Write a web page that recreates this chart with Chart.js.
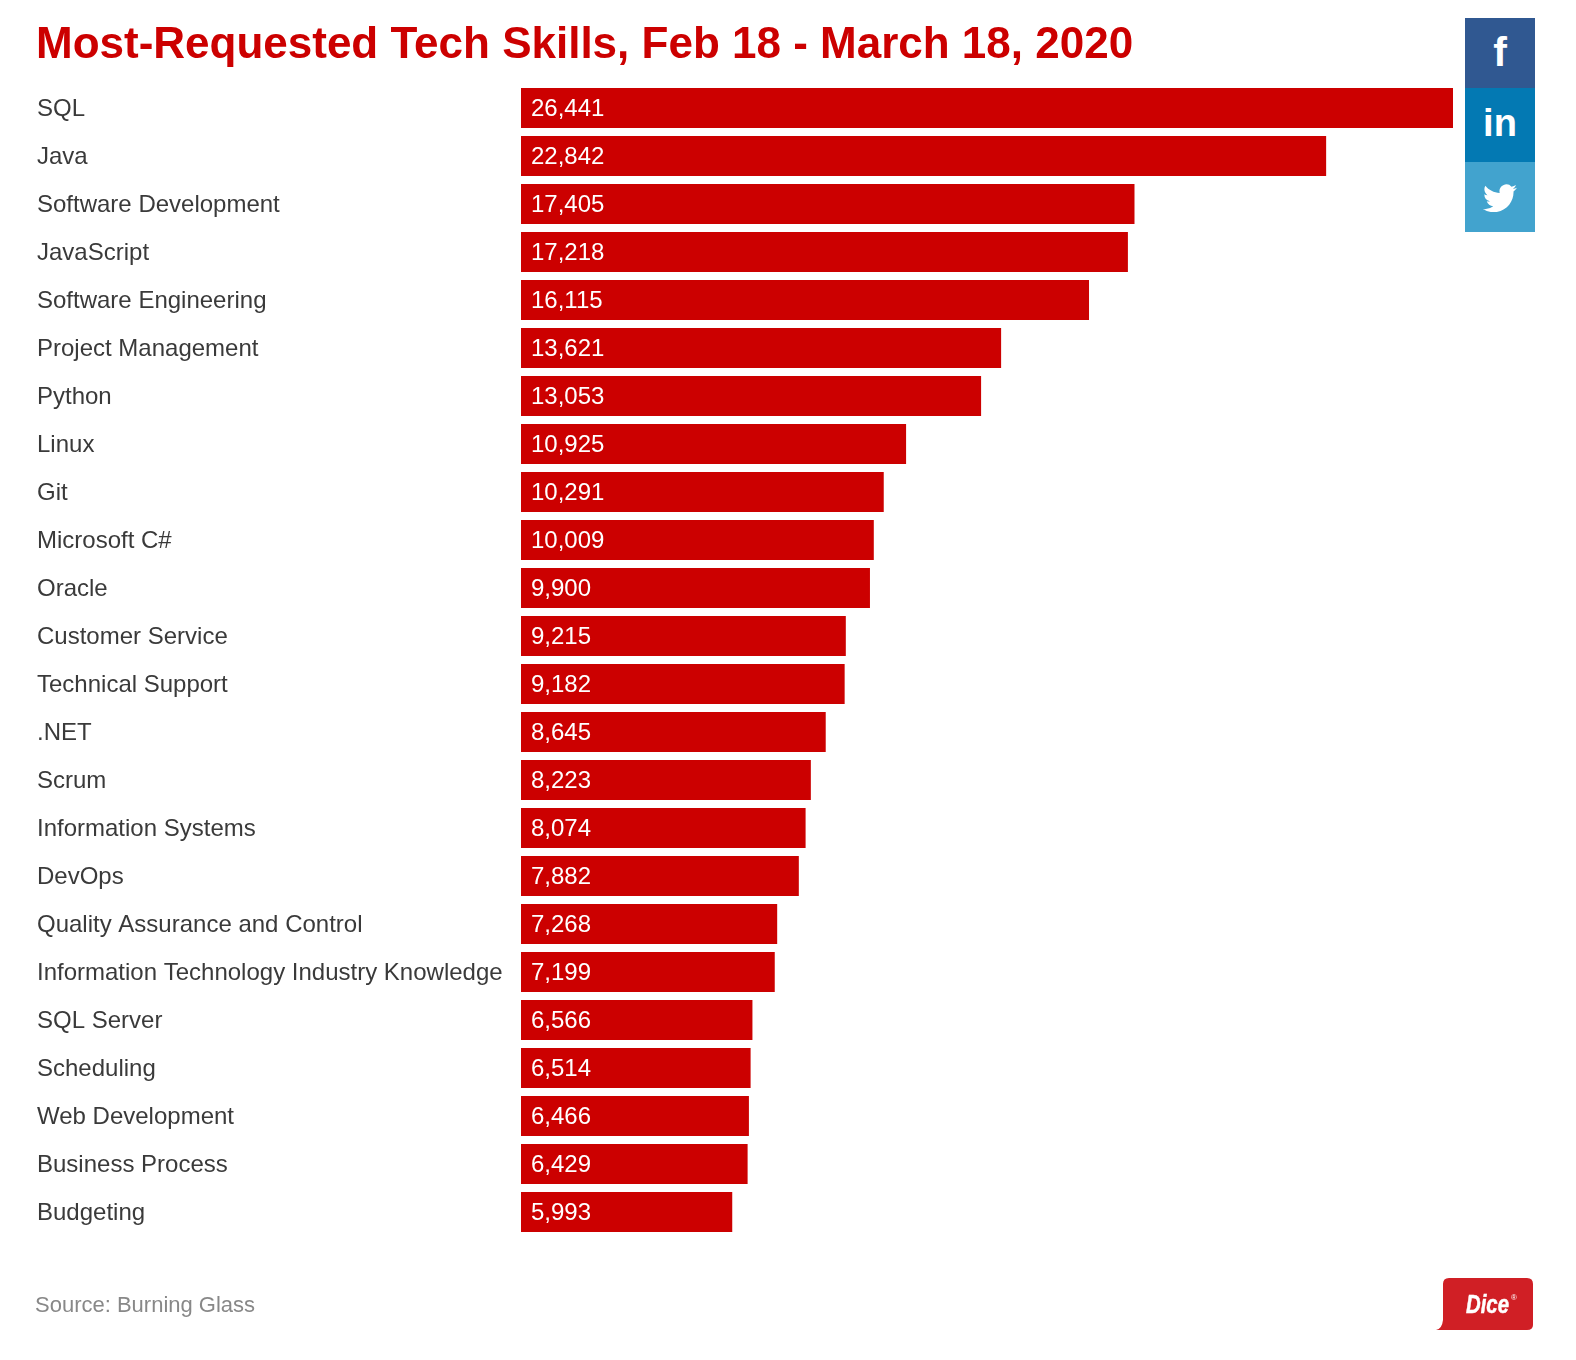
<!DOCTYPE html>
<html>
<head>
<meta charset="utf-8">
<title>Most-Requested Tech Skills</title>
<script src="https://cdn.jsdelivr.net/npm/chart.js@4"></script>
<style>
  html, body { margin: 0; padding: 0; background: #fff; }
  body { position: relative; width: 1576px; height: 1360px; overflow: hidden; font-family: "Liberation Sans", Arial, sans-serif; }
  #chart { position: absolute; left: 0; top: 0; }
  #title { position: absolute; left: 36px; top: 17px; font-size: 44px; line-height: 52px; font-weight: bold; color: #cc0000; white-space: nowrap; }
  #source { position: absolute; left: 35px; top: 1291px; font-size: 22px; line-height: 28px; color: #888; }
  .social { position: absolute; left: 1465px; width: 70px; color: #fff; font-weight: bold; text-align: center; }
  #fb { top: 18px; height: 70px; background: #305891; font-size: 41px; line-height: 69px; }
  #li { top: 88px; height: 74px; background: #0379b3; font-size: 38px; line-height: 70px; }
  #tw { top: 162px; height: 70px; background: #42a3ce; }
  #tw svg { position: absolute; left: 18px; top: 22px; width: 34px; height: 28px; }
  #logo { position: absolute; left: 1436px; top: 1277px; width: 98px; height: 54px; }
</style>
</head>
<body>
<canvas id="chart" width="1576" height="1360"></canvas>
<div id="title">Most-Requested Tech Skills, Feb 18 - March 18, 2020</div>
<div id="source">Source: Burning Glass</div>
<div class="social" id="fb">f</div>
<div class="social" id="li">in</div>
<div class="social" id="tw"><svg viewBox="0 1.9 24 19.7" preserveAspectRatio="none"><path fill="#fff" d="M23.953 4.57a10 10 0 01-2.825.775 4.958 4.958 0 002.163-2.723c-.951.555-2.005.959-3.127 1.184a4.92 4.92 0 00-8.384 4.482C7.69 8.095 4.067 6.13 1.64 3.162a4.822 4.822 0 00-.666 2.475c0 1.71.87 3.213 2.188 4.096a4.904 4.904 0 01-2.228-.616v.06a4.923 4.923 0 003.946 4.827 4.996 4.996 0 01-2.212.085 4.936 4.936 0 004.604 3.417 9.867 9.867 0 01-6.102 2.105c-.39 0-.779-.023-1.17-.067a13.995 13.995 0 007.557 2.209c9.053 0 13.998-7.496 13.998-13.985 0-.21 0-.42-.015-.63A9.935 9.935 0 0024 4.59z"/></svg></div>
<svg id="logo" viewBox="0 0 98 54">
  <path fill="#d01f25" d="M7 7 q0-6 6-6 h78 q6 0 6 6 v41 q0 5-6 5 h-91 q6-1 7-10 z"/>
  <text x="30" y="36" font-family="Liberation Sans" font-size="26" font-weight="bold" font-style="italic" fill="#fff" stroke="#fff" stroke-width="0.5" textLength="43" lengthAdjust="spacingAndGlyphs">Dice</text>
  <text x="75" y="23" font-family="Liberation Sans" font-size="8" fill="#fff">®</text>
</svg>
<script>
const skills = ['SQL', 'Java', 'Software Development', 'JavaScript', 'Software Engineering', 'Project Management', 'Python', 'Linux', 'Git', 'Microsoft C#', 'Oracle', 'Customer Service', 'Technical Support', '.NET', 'Scrum', 'Information Systems', 'DevOps', 'Quality Assurance and Control', 'Information Technology Industry Knowledge', 'SQL Server', 'Scheduling', 'Web Development', 'Business Process', 'Budgeting'];
const postings = [26441, 22842, 17405, 17218, 16115, 13621, 13053, 10925, 10291, 10009, 9900, 9215, 9182, 8645, 8223, 8074, 7882, 7268, 7199, 6566, 6514, 6466, 6429, 5993];

// values written inside the bars
const valueLabels = {
    id: 'valueLabels',
    afterDatasetsDraw(chart) {
        const ctx = chart.ctx;
        ctx.save();
        ctx.fillStyle = '#fff';
        ctx.font = '24px "Liberation Sans"';
        ctx.textAlign = 'left';
        ctx.textBaseline = 'middle';
        chart.getDatasetMeta(0).data.forEach((bar, i) => {
            ctx.fillText(postings[i].toLocaleString('en-US'), chart.chartArea.left + 10, bar.y + 1);
        });
        ctx.restore();
    }
};

new Chart(document.getElementById('chart'), {
    type: 'bar',
    data: {
        labels: skills,
        datasets: [{ data: postings, backgroundColor: '#cc0000', barPercentage: 0.8333, categoryPercentage: 1 }]
    },
    options: {
        indexAxis: 'y',
        responsive: false,
        animation: false,
        devicePixelRatio: 1,
        layout: { padding: { left: 37, top: 84, right: 123, bottom: 124 } },
        plugins: { legend: { display: false }, tooltip: { enabled: false } },
        scales: {
            x: { display: false, min: 0, max: 26441 },
            y: {
                afterFit: axis => { axis.width = 484; },
                border: { display: false },
                grid: { display: false },
                ticks: {
                    crossAlign: 'far',
                    color: '#3a3a3a',
                    padding: 0,
                    labelOffset: 1.5,
                    autoSkip: false,
                    font: { family: '"Liberation Sans"', size: 24 }
                }
            }
        }
    },
    plugins: [valueLabels]
});
</script>
</body>
</html>
